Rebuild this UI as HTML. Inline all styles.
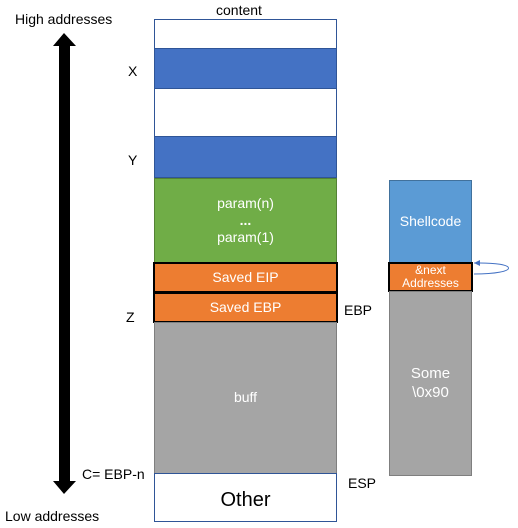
<!DOCTYPE html>
<html><head><style>
body{margin:0;width:518px;height:528px;background:#fff;position:relative;font-family:"Liberation Sans",sans-serif;overflow:hidden}
.a{position:absolute;box-sizing:border-box}
.t{position:absolute;font-size:13px;color:#000;white-space:nowrap}
.c{display:flex;align-items:center;justify-content:center;flex-direction:column;color:#fff;font-size:14px;text-align:center;line-height:1.25}
</style></head><body>
<div class="t" style="left:15px;top:11px;font-size:14px">High addresses</div>
<div class="t" style="left:5px;top:508px;font-size:14px">Low addresses</div>
<div class="t" style="left:216px;top:2px;font-size:14px">content</div>
<svg class="a" style="left:0;top:0" width="518" height="528">
<polygon points="64,33 76,46 70,46 70,481 76,481 64,494 53,481 59,481 59,46 53,46" fill="#000"/>
<path d="M474,263 C520,262 520,274 474,274" fill="none" stroke="#4472c4" stroke-width="1"/>
<polygon points="474,263 480,260 480,266" fill="#4472c4"/>
</svg>
<div class="a" style="left:154px;top:19px;width:183px;height:30px;border:1px solid #2f5597;border-bottom:none;background:#fff"></div>
<div class="a" style="left:154px;top:48px;width:183px;height:41px;background:#4472c4;border:1px solid #2f5597"></div>
<div class="a" style="left:154px;top:89px;width:183px;height:47px;border-left:1px solid #2f5597;border-right:1px solid #2f5597"></div>
<div class="a" style="left:154px;top:136px;width:183px;height:42px;background:#4472c4;border:1px solid #2f5597"></div>
<div class="a c" style="left:154px;top:178px;width:183px;height:85px;background:#70ad47;border:1px solid #548235;line-height:1.5"><div>param(n)</div><div style="font-weight:bold;line-height:0.9">...</div><div>param(1)</div></div>
<div class="a c" style="left:153px;top:262px;width:185px;height:31px;background:#ed7d31;border:2px solid #000">Saved EIP</div>
<div class="a c" style="left:153px;top:292px;width:185px;height:31px;background:#ed7d31;border:2px solid #000">Saved EBP</div>
<div class="a c" style="left:154px;top:322px;width:183px;height:152px;background:#a5a5a5;border:1px solid #7f7f7f">buff</div>
<div class="a" style="left:154px;top:473px;width:183px;height:49px;border:1px solid #2f5597;display:flex;align-items:center;justify-content:center;font-size:20px;padding-top:6px">Other</div>
<div class="t" style="left:128px;top:63px;font-size:14px">X</div>
<div class="t" style="left:128px;top:152px;font-size:14px">Y</div>
<div class="t" style="left:126px;top:309px;font-size:14px">Z</div>
<div class="t" style="left:82px;top:466px;font-size:14px">C= EBP-n</div>
<div class="t" style="left:344px;top:302px;font-size:14px">EBP</div>
<div class="t" style="left:348px;top:475px;font-size:14px">ESP</div>
<div class="a c" style="left:389px;top:180px;width:83px;height:83px;background:#5b9bd5;border:1px solid #41719c">Shellcode</div>
<div class="a c" style="left:388px;top:262px;width:85px;height:30px;background:#ed7d31;border:2px solid #000;font-size:12px;line-height:1.1">&amp;next<br>Addresses</div>
<div class="a c" style="left:389px;top:291px;width:83px;height:185px;background:#a5a5a5;border:1px solid #7f7f7f;font-size:15px">Some<br>\0x90</div>
</body></html>
